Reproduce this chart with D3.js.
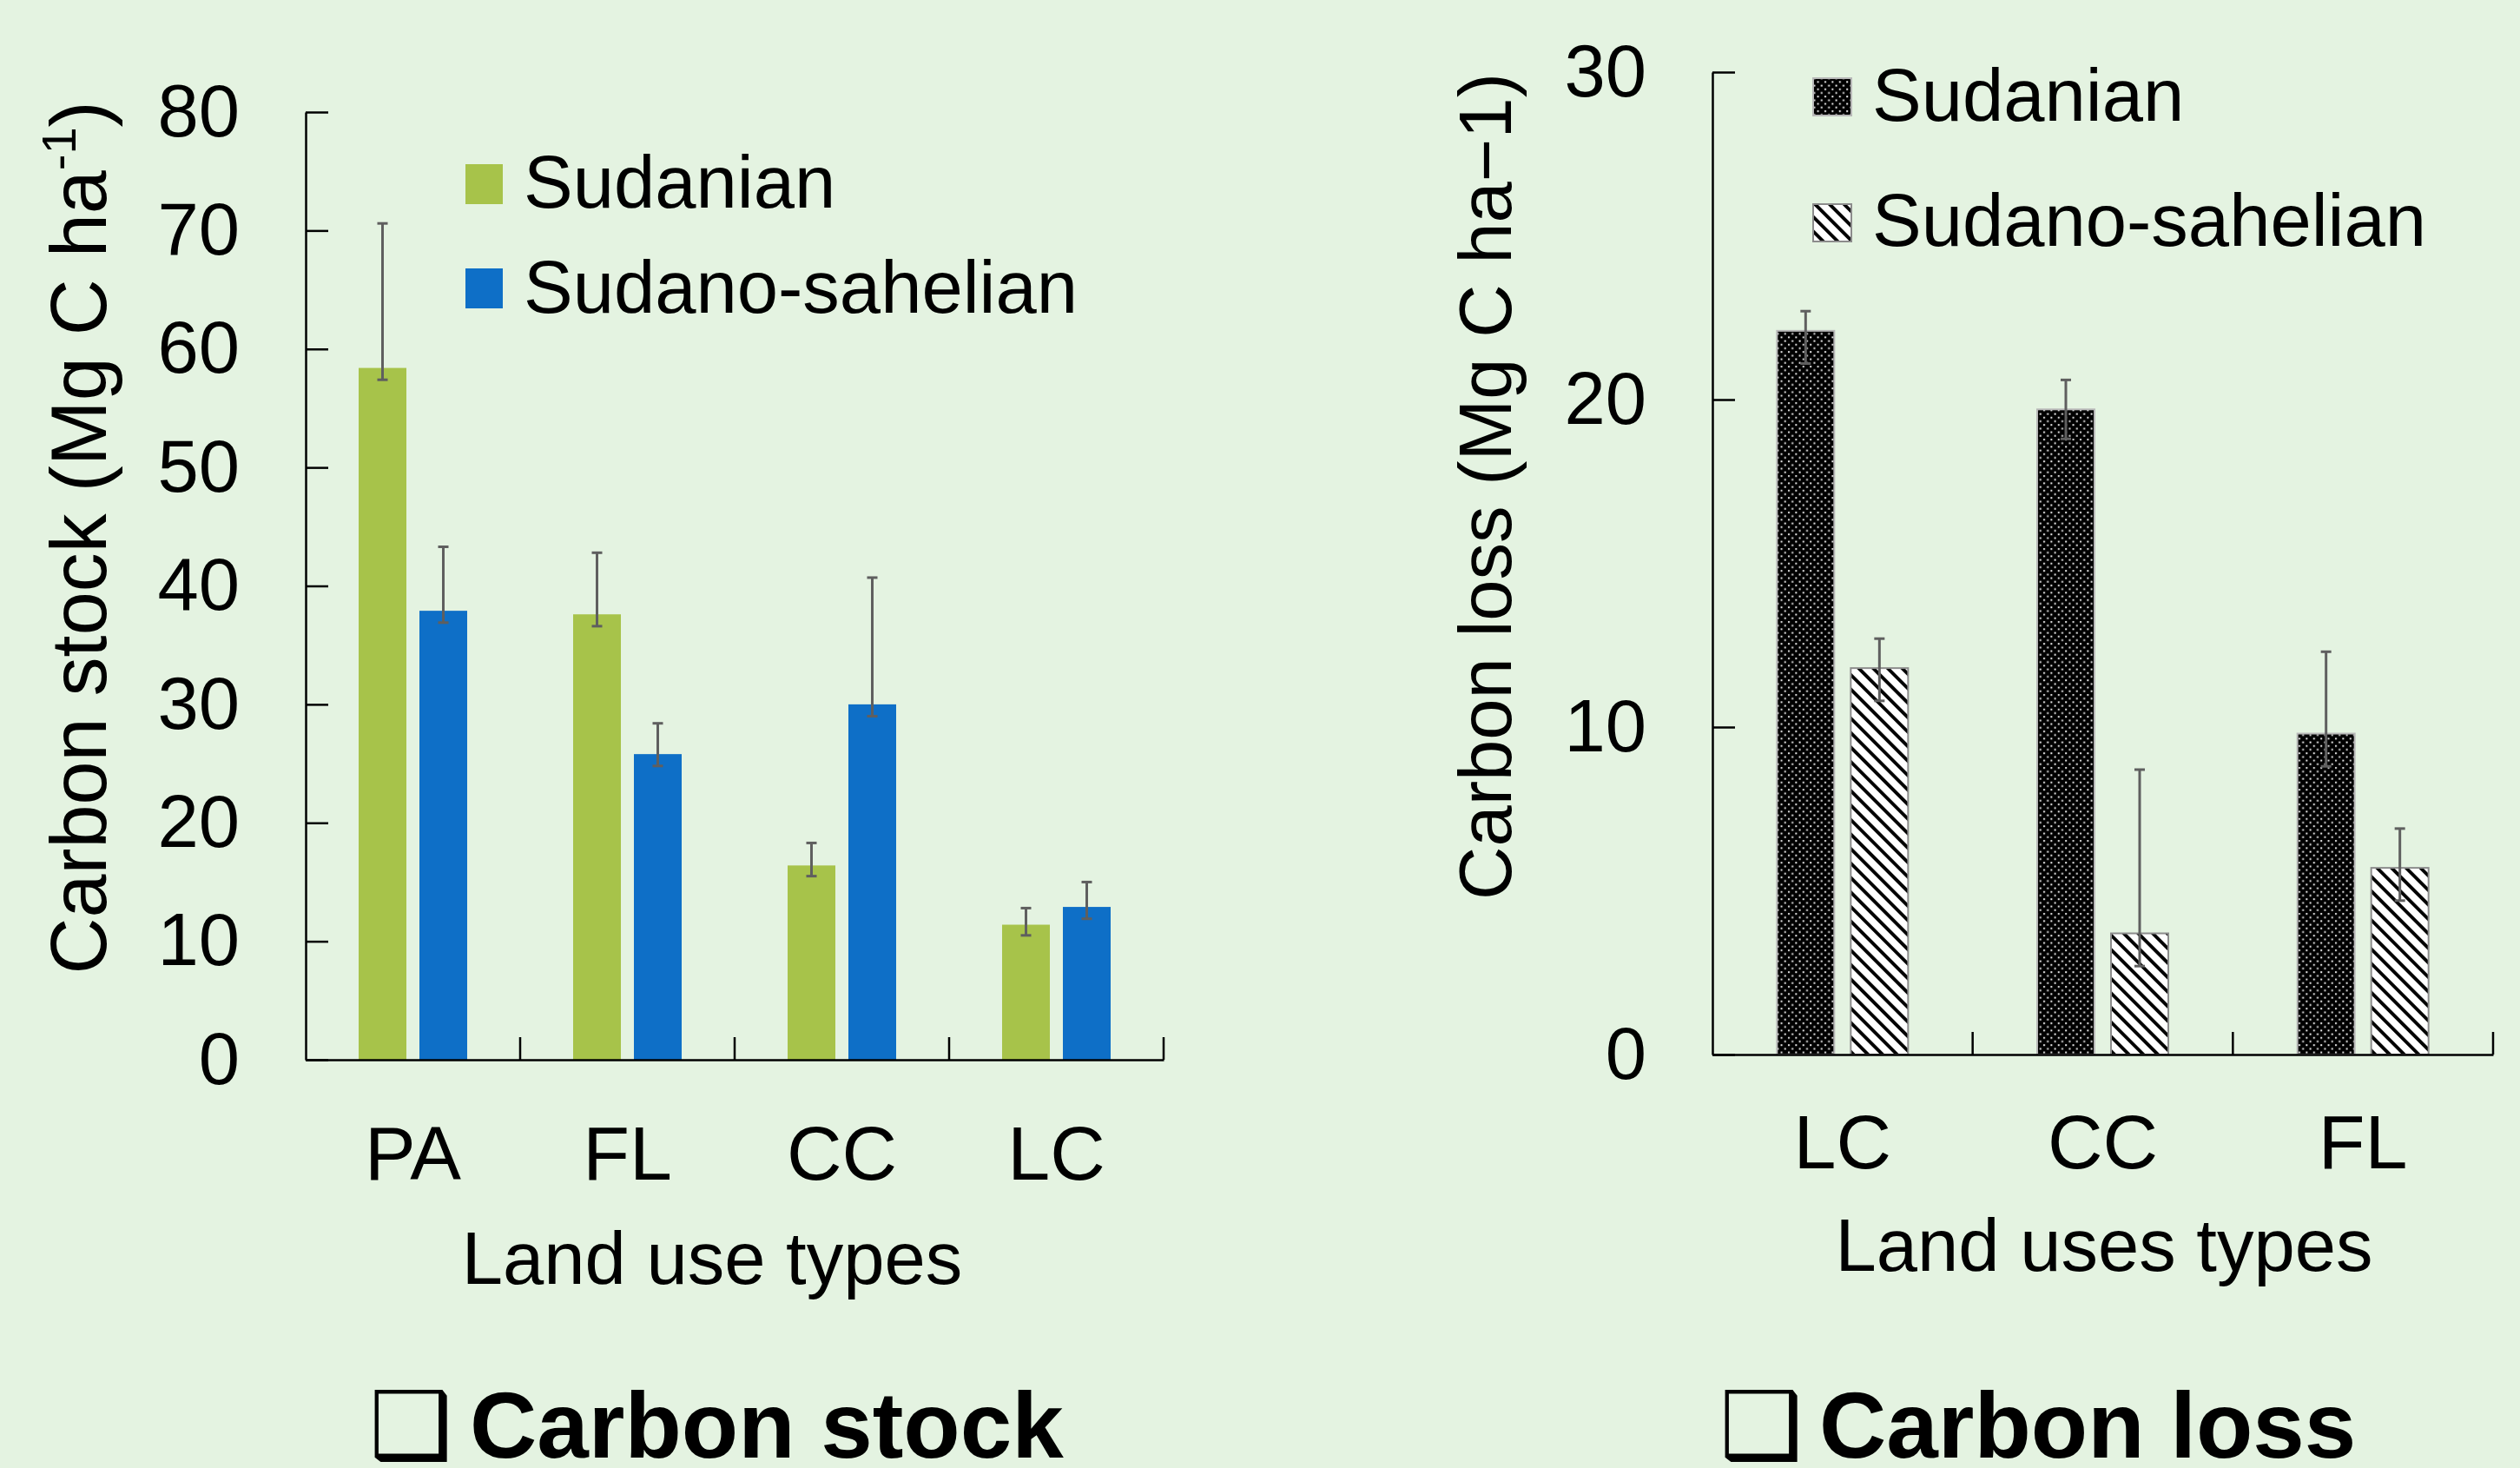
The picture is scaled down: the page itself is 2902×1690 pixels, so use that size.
<!DOCTYPE html>
<html>
<head>
<meta charset="utf-8">
<script src="https://cdn.jsdelivr.net/npm/d3@7"></script>
<style>
  body { margin: 0; background: #e4f3e1; }
  svg { display: block; font-family: "Liberation Sans", Arial, sans-serif; }
</style>
</head>
<body>
<svg id="chart"></svg>
<script>
// ---- data ----
var stockCats = ["PA", "FL", "CC", "LC"];
var stockSudanian = [58.4, 37.6, 16.4, 11.4];
var stockSudanianHi = [70.6, 42.8, 18.3, 12.8];
var stockSudanianLo = [57.4, 36.6, 15.5, 10.5];
var stockSahelian = [37.9, 25.8, 30.0, 12.9];
var stockSahelianHi = [43.3, 28.4, 40.7, 15.0];
var stockSahelianLo = [36.9, 24.8, 29.0, 11.9];
var stockTicks = [0, 10, 20, 30, 40, 50, 60, 70, 80];

var lossCats = ["LC", "CC", "FL"];
var lossSudanian = [22.1, 19.7, 9.8];
var lossSudanianHi = [22.7, 20.6, 12.3];
var lossSudanianLo = [21.1, 18.8, 8.8];
var lossSahelian = [11.8, 3.7, 5.7];
var lossSahelianHi = [12.7, 8.7, 6.9];
var lossSahelianLo = [10.8, 2.7, 4.7];
var lossTicks = [0, 10, 20, 30];

var seriesNames = ["Sudanian", "Sudano-sahelian"];

var W = 2902, H = 1690;
var svg = d3.select("#chart").attr("width", W).attr("height", H);
svg.append("rect").attr("width", W).attr("height", H).attr("fill", "#e4f3e1");

// patterns for the carbon loss panel
var defs = svg.append("defs");
var dots = defs.append("pattern").attr("id", "dots")
  .attr("patternUnits", "userSpaceOnUse").attr("width", 8.4).attr("height", 8.4);
dots.append("rect").attr("width", 8.4).attr("height", 8.4).attr("fill", "#000");
dots.append("rect").attr("x", 1).attr("y", 1).attr("width", 2).attr("height", 2).attr("fill", "#e8e8e8");
dots.append("rect").attr("x", 5.2).attr("y", 5.2).attr("width", 2).attr("height", 2).attr("fill", "#e8e8e8");

var stripes = defs.append("pattern").attr("id", "stripes")
  .attr("patternUnits", "userSpaceOnUse").attr("width", 11.8).attr("height", 11.8)
  .attr("patternTransform", "rotate(-45)");
stripes.append("rect").attr("width", 11.8).attr("height", 11.8).attr("fill", "#fff");
stripes.append("rect").attr("width", 3.9).attr("height", 11.8).attr("fill", "#000");

function panel(p) {
  var x = d3.scaleBand().domain(p.cats).range(p.xRange);
  var y = d3.scaleLinear().domain(p.yDomain).range(p.yRange);
  var half = p.barW + p.gap / 2;
  var xs = d3.scaleBand().domain(d3.range(p.series.length))
    .range([x.bandwidth() / 2 - half, x.bandwidth() / 2 + half])
    .paddingInner(p.gap / (p.barW + p.gap));

  // bars
  p.series.forEach(function(s, si) {
    svg.append("g").selectAll("rect")
      .data(p.cats)
      .join("rect")
      .attr("x", function(c) { return x(c) + xs(si); })
      .attr("y", function(c, i) { return y(s.vals[i]); })
      .attr("width", xs.bandwidth())
      .attr("height", function(c, i) { return y(0) - y(s.vals[i]); })
      .attr("fill", s.fill)
      .attr("stroke", s.stroke || "none")
      .attr("stroke-width", s.stroke ? 2 : 0);
  });

  // error bars
  p.series.forEach(function(s, si) {
    var g = svg.append("g").attr("stroke", "#5f5f5f").attr("stroke-width", 3);
    p.cats.forEach(function(c, i) {
      var cx = x(c) + xs(si) + xs.bandwidth() / 2;
      g.append("line").attr("x1", cx).attr("x2", cx).attr("y1", y(s.hi[i])).attr("y2", y(s.lo[i]));
      g.append("line").attr("x1", cx - 6).attr("x2", cx + 6).attr("y1", y(s.hi[i])).attr("y2", y(s.hi[i]));
      g.append("line").attr("x1", cx - 6).attr("x2", cx + 6).attr("y1", y(s.lo[i])).attr("y2", y(s.lo[i]));
    });
  });

  // y axis
  var gy = svg.append("g")
    .attr("transform", "translate(" + p.xRange[0] + ",0)")
    .call(d3.axisLeft(y).tickValues(p.yTicks).tickSizeInner(-26).tickSizeOuter(0).tickPadding(76))
    .attr("font-family", null).attr("font-size", null);
  gy.select(".domain").attr("stroke", "#000").attr("stroke-width", 2.5);
  gy.selectAll(".tick line").attr("stroke", "#000").attr("stroke-width", 2.5);
  gy.selectAll(".tick text").attr("fill", "#000").attr("font-size", 85);

  // x axis, labels at band centres
  var gx = svg.append("g")
    .attr("transform", "translate(0," + y(0) + ")")
    .call(d3.axisBottom(x).tickSize(0).tickPadding(p.xPad))
    .attr("font-family", null).attr("font-size", null);
  gx.select(".domain").attr("stroke", "#000").attr("stroke-width", 2.5);
  gx.selectAll(".tick text").attr("fill", "#000").attr("font-size", 88);

  // separator ticks between categories
  var seps = p.cats.slice(1).map(function(c) { return x(c); }).concat([x.range()[1]]);
  svg.append("g").selectAll("line").data(seps).join("line")
    .attr("x1", function(d) { return d; }).attr("x2", function(d) { return d; })
    .attr("y1", y(0)).attr("y2", y(0) - 26)
    .attr("stroke", "#000").attr("stroke-width", 2.5);

  // axis titles
  var yt = svg.append("text")
    .attr("transform", "translate(" + p.yTitlePos[0] + "," + p.yTitlePos[1] + ") rotate(-90)")
    .attr("text-anchor", "middle").attr("font-size", p.yTitleSize).attr("fill", "#000");
  p.yTitle(yt);

  svg.append("text").attr("x", p.xTitlePos[0]).attr("y", p.xTitlePos[1])
    .attr("text-anchor", "middle").attr("font-size", 85).attr("fill", "#000")
    .text(p.xTitle);

  // legend
  p.series.forEach(function(s, si) {
    var ly = p.legend.y[si];
    svg.append("rect").attr("x", p.legend.x).attr("y", ly)
      .attr("width", p.legend.w).attr("height", p.legend.h)
      .attr("fill", s.fill).attr("stroke", s.stroke || "none").attr("stroke-width", s.stroke ? 2 : 0);
    svg.append("text").attr("x", p.legend.tx).attr("y", p.legend.ty[si])
      .attr("font-size", 85).attr("fill", "#000").text(seriesNames[si]);
  });

  // bottom caption
  svg.append("text").attr("x", p.caption.bx).attr("y", 1678)
    .attr("font-family", "DejaVu Sans").attr("font-size", 107).attr("fill", "#000")
    .text("\u2751");
  svg.append("text").attr("x", p.caption.tx).attr("y", 1678)
    .attr("font-size", 107).attr("font-weight", "bold").attr("fill", "#000")
    .text(p.caption.text);
}

panel({
  cats: stockCats,
  xRange: [352, 1340],
  yDomain: [0, 80],
  yRange: [1220, 129],
  yTicks: stockTicks,
  barW: 55, gap: 15,
  xPad: 76,
  series: [
    { vals: stockSudanian, hi: stockSudanianHi, lo: stockSudanianLo, fill: "#a7c34a" },
    { vals: stockSahelian, hi: stockSahelianHi, lo: stockSahelianLo, fill: "#0e6fc7" }
  ],
  yTitlePos: [122, 619],
  yTitleSize: 90,
  yTitle: function(t) {
    t.append("tspan").text("Carbon stock (Mg C ha");
    t.append("tspan").attr("font-size", 56).attr("dy", -35).text("-1");
    t.append("tspan").attr("dy", 35).text(")");
  },
  xTitle: "Land use types",
  xTitlePos: [820, 1478],
  legend: { x: 536, y: [189, 309], w: 43, h: 46, tx: 603, ty: [239, 360] },
  caption: { bx: 425, tx: 541, text: "Carbon stock" }
});

panel({
  cats: lossCats,
  xRange: [1972, 2871],
  yDomain: [0, 30],
  yRange: [1214, 83],
  yTicks: lossTicks,
  barW: 66, gap: 19,
  xPad: 69,
  series: [
    { vals: lossSudanian, hi: lossSudanianHi, lo: lossSudanianLo, fill: "url(#dots)", stroke: "#b8b8b8" },
    { vals: lossSahelian, hi: lossSahelianHi, lo: lossSahelianLo, fill: "url(#stripes)", stroke: "#8c8c8c" }
  ],
  yTitlePos: [1740, 560],
  yTitleSize: 85,
  yTitle: function(t) { t.text("Carbon loss (Mg C ha\u22121)"); },
  xTitle: "Land uses types",
  xTitlePos: [2423, 1463],
  legend: { x: 2088, y: [90, 235], w: 44, h: 43, tx: 2156, ty: [139, 283] },
  caption: { bx: 1980, tx: 2095, text: "Carbon loss" }
});
</script>
</body>
</html>
